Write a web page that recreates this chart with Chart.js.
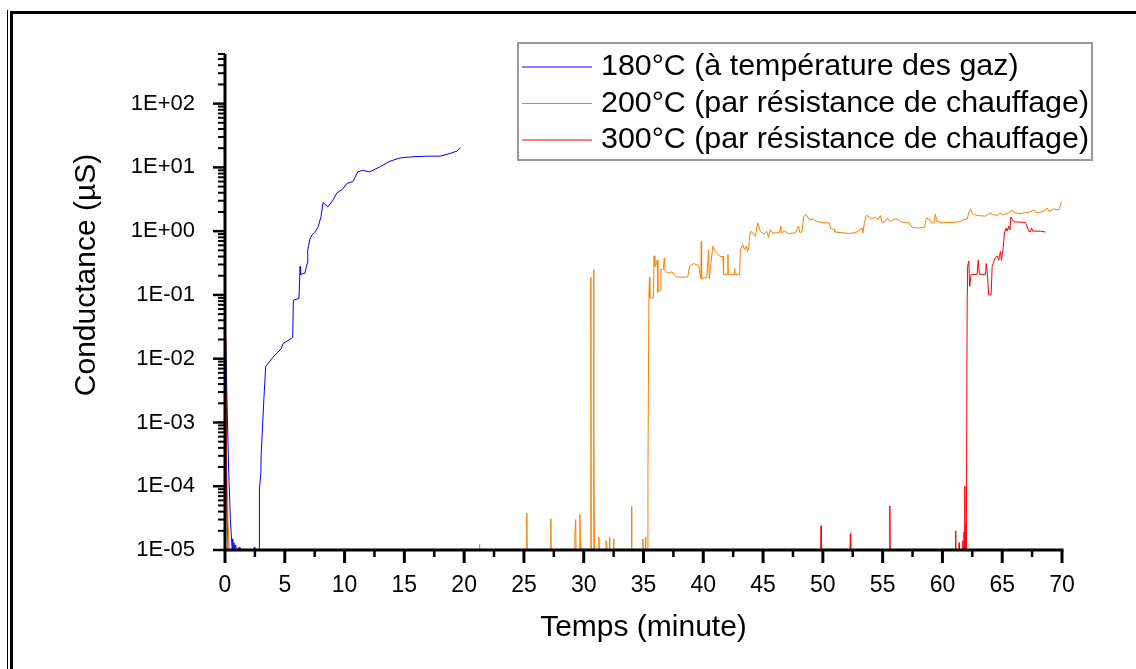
<!DOCTYPE html>
<html><head><meta charset="utf-8">
<script src="https://cdn.jsdelivr.net/npm/chart.js@4.4.0/dist/chart.umd.min.js"></script>
<style>html,body{margin:0;padding:0;background:#fff}#wrap{width:1136px;height:669px;position:relative}</style>
</head><body><div id="wrap"><canvas id="c" width="1136" height="669"></canvas></div>
<script>
// ---- data ----
const seriesLabels = ['180°C (à température des gaz)', '200°C (par résistance de chauffage)', '300°C (par résistance de chauffage)'];
const seriesColors = ['#0000ff', '#ff8000', '#ff0000'];
const xTitle = 'Temps (minute)';
const yTitle = 'Conductance (µS)';
const xTickValues = [0,5,10,15,20,25,30,35,40,45,50,55,60,65,70];
const yTickExponents = [-5,-4,-3,-2,-1,0,1,2];

// 180°C : time (min), conductance (µS)
const blueT = [0,0.15,0.3,0.45,0.6,0.65,0.7,0.75,0.8,0.9,0.95,1.2,1.25,2.4,2.45,2.5,2.85,2.88,3.0,3.02,3.25,3.4,4.0,4.7,4.85,5.66,5.72,6.19,6.28,6.32,6.69,6.86,6.92,7.0,7.1,7.28,7.5,7.8,8.03,8.2,8.6,8.95,9.37,9.8,10.2,10.7,11.1,11.5,12.1,13.0,13.8,14.6,15.7,16.9,18.0,18.8,19.4,19.7];
const blueG = [0.05,3e-3,2e-4,3e-5,1e-5,1.5e-5,1e-5,1.3e-5,1e-5,1.2e-5,1e-5,1.1e-5,1e-5,1e-5,1.1e-5,1e-5,1e-5,9e-5,1.6e-4,3e-4,2.3e-3,7.5e-3,0.0105,0.0143,0.0172,0.0215,0.083,0.088,0.28,0.21,0.22,0.31,0.51,0.6,0.75,0.88,0.95,1.18,1.7,2.8,2.4,2.9,4.0,4.5,5.6,6.0,8.5,9,8.5,10.3,12.5,14,14.7,15,15,16.5,18,20.5];

// 200°C
const orangeT = [0,0.08,0.15,0.25,0.35,21.25,21.28,21.31,25.21,25.24,25.27,27.22,27.25,27.28,29.23,29.26,29.33,29.36,29.65,29.68,29.72,29.75,30.57,30.6,30.63,30.79,30.82,30.86,30.9,31.24,31.27,31.3,31.83,31.86,31.94,31.97,32.13,32.16,32.19,32.47,32.5,32.53,33.97,34.0,34.03,34.92,34.95,35.0,35.14,35.17,35.2,35.33,35.37,35.45,35.5,35.53,35.84,35.88,35.95,36.05,36.15,36.2,36.4,36.45,36.65,36.74,36.8,37.0,37.38,37.74,38.69,38.86,39.19,39.61,39.8,39.83,39.86,40.3,40.44,40.5,40.8,41.0,41.42,41.65,41.7,42.03,42.06,42.09,42.6,42.63,42.66,43.04,43.1,43.3,43.45,43.6,43.7,43.8,43.87,44.0,44.35,44.55,44.7,44.9,45.1,45.3,45.46,45.6,45.8,46.4,46.47,46.55,46.8,47.14,47.7,47.95,48.1,48.26,48.4,48.6,48.85,49.2,49.5,50.07,50.55,50.63,50.95,51.0,51.7,52.3,52.86,53.08,53.28,53.36,53.47,53.64,53.84,54.1,54.4,54.6,54.8,54.95,55.2,55.4,55.6,55.9,56.2,56.5,56.8,57.2,57.46,58.0,58.5,58.66,58.9,59.1,59.3,59.4,59.55,59.97,60.4,60.95,61.5,61.8,62.07,62.2,62.35,62.5,62.9,63.6,63.75,64.0,64.2,64.6,64.8,65.0,65.4,65.6,65.77,66.0,66.4,66.8,67.2,67.64,67.9,68.45,68.76,68.9,69.3,69.73,69.95];
const orangeG = [0.02,1.5e-3,2e-4,3e-5,1e-5,1e-5,1.23e-5,1e-5,1e-5,3.8e-5,1e-5,1e-5,3.1e-5,1e-5,1e-5,1.8e-5,3e-5,1e-5,1e-5,3.6e-5,1.3e-5,1e-5,1e-5,0.19,1e-5,1e-5,0.25,7e-4,1e-5,1e-5,1.6e-5,1e-5,1e-5,1.4e-5,1.2e-5,1e-5,1e-5,1.6e-5,1e-5,1e-5,1.5e-5,1e-5,1e-5,4.8e-5,1e-5,1e-5,1.5e-5,1e-5,1e-5,1.6e-5,1e-5,1e-5,1.4e-4,0.095,0.19,0.09,0.09,0.41,0.28,0.3,0.35,0.11,0.12,0.25,0.25,0.38,0.24,0.22,0.23,0.19,0.19,0.28,0.31,0.29,0.18,0.69,0.18,0.19,0.51,0.18,0.58,0.48,0.4,0.4,0.21,0.21,0.43,0.21,0.21,0.26,0.21,0.21,0.51,0.62,0.51,0.58,0.48,0.55,0.83,1.0,0.83,1.35,1.05,0.94,0.9,1.0,0.8,1.05,0.94,0.94,1.2,0.94,1.0,0.92,0.94,1.2,0.94,1.0,1.7,1.83,1.52,1.55,1.42,1.35,1.35,1.1,1.07,0.97,0.94,0.92,0.97,1.07,1.12,0.94,1.35,1.78,1.67,1.55,1.67,1.52,1.76,1.37,1.42,1.6,1.42,1.52,1.55,1.42,1.37,1.35,1.15,1.12,1.15,1.6,1.55,1.35,1.35,1.83,1.42,1.35,1.37,1.37,1.42,1.52,1.55,1.93,2.23,1.9,1.76,1.72,1.8,1.93,1.83,1.76,1.93,1.83,1.88,1.97,2.15,1.97,1.88,1.93,1.97,2.15,1.93,2.05,2.3,2.05,2.23,2.15,2.83];

// 300°C
const redT = [0,0.08,0.15,0.25,49.82,49.85,49.88,52.27,52.3,52.33,55.57,55.6,55.63,61.07,61.1,61.13,61.37,61.4,61.43,61.67,61.7,61.75,61.8,61.84,61.87,61.9,61.95,62.0,62.05,62.07,62.09,62.2,62.28,62.4,62.9,62.99,63.1,63.6,63.66,63.77,63.87,64.07,64.16,64.24,64.44,64.58,64.71,64.85,64.94,65.08,65.19,65.33,65.41,65.55,65.65,65.72,65.97,66.95,67.14,67.22,67.36,67.45,67.56,68.2,68.62];
const redG = [3e-3,4e-4,5e-5,1e-5,1e-5,2.4e-5,1e-5,1e-5,1.8e-5,1e-5,1e-5,4.9e-5,1e-5,1e-5,2e-5,1e-5,1e-5,1.3e-5,1e-5,1e-5,1.4e-5,1e-5,1.9e-5,1e-5,1e-4,1e-5,2.6e-5,1e-5,1e-5,0.1,0.27,0.34,0.136,0.21,0.21,0.35,0.21,0.21,0.31,0.21,0.1,0.1,0.28,0.31,0.39,0.41,0.35,0.48,0.35,0.55,0.94,1.12,1.0,1.2,1.05,1.67,1.4,1.37,1.12,1.0,0.97,1.12,1.0,1.0,0.97];

const toPts = (t, g) => t.map((v, i) => ({x: v, y: g[i]}));
const FONT = '"Liberation Sans", Arial, sans-serif';

const decor = {
  id: 'decor',
  afterDatasetsDraw(chart) {
    const ctx = chart.ctx;
    const xs = chart.scales.x, ys = chart.scales.y;
    const {left, right, top, bottom} = chart.chartArea;
    ctx.save();
    ctx.strokeStyle = '#000';
    ctx.lineCap = 'butt';
    for (let e = -5; e <= 2; e++) {
      for (let k = 1; k <= 9; k++) {
        const v = k * Math.pow(10, e);
        if (v > ys.max * 1.0001) break;
        const py = ys.getPixelForValue(v);
        ctx.lineWidth = k === 1 ? 2.5 : 2;
        ctx.beginPath();
        ctx.moveTo(left - (k === 1 ? 12 : 7), py);
        ctx.lineTo(left, py);
        ctx.stroke();
      }
    }
    for (let v = xs.min; v <= xs.max + 1e-9; v += 2.5) {
      const px = xs.getPixelForValue(v);
      const major = Math.abs(v % 5) < 1e-9;
      ctx.lineWidth = major ? 3 : 2.5;
      ctx.beginPath();
      ctx.moveTo(px, bottom);
      ctx.lineTo(px, bottom + (major ? 13 : 7));
      ctx.stroke();
    }
    ctx.lineWidth = 3;
    ctx.beginPath();
    ctx.moveTo(left, top);
    ctx.lineTo(left, bottom + 1.5);
    ctx.moveTo(left - 1.5, bottom);
    ctx.lineTo(right + 1.5, bottom);
    ctx.stroke();

    ctx.fillStyle = '#000';
    ctx.font = '30px ' + FONT;
    ctx.textAlign = 'center';
    ctx.textBaseline = 'middle';
    ctx.save();
    ctx.translate(87, 275);
    ctx.rotate(-Math.PI / 2);
    ctx.fillText(yTitle, 0, 0);
    ctx.restore();

    ctx.lineWidth = 2;
    ctx.strokeStyle = '#999';
    ctx.strokeRect(518, 43, 574, 117);
    ctx.textAlign = 'left';
    ctx.font = '30.4px ' + FONT;
    chart.data.datasets.forEach((ds, i) => {
      const cy = 67 + i * 36.5;
      ctx.strokeStyle = ds.borderColor;
      ctx.lineWidth = 1.2;
      ctx.beginPath();
      ctx.moveTo(522, cy);
      ctx.lineTo(592, cy);
      ctx.stroke();
      ctx.fillStyle = '#000';
      ctx.fillText(ds.label, 601, cy);
    });

    ctx.fillStyle = '#000';
    ctx.fillRect(10, 11, 3, 658);
    ctx.fillRect(10, 11, 1126, 3);
    ctx.fillRect(7, 10, 1, 659);
    ctx.restore();
  }
};

const chart = new Chart(document.getElementById('c'), {
  type: 'line',
  data: {
    datasets: [
      {label: seriesLabels[0], data: toPts(blueT, blueG), borderColor: seriesColors[0], order: 1},
      {label: seriesLabels[1], data: toPts(orangeT, orangeG), borderColor: seriesColors[1], order: 2},
      {label: seriesLabels[2], data: toPts(redT, redG), borderColor: seriesColors[2], order: 0}
    ]
  },
  options: {
    responsive: false,
    animation: false,
    devicePixelRatio: 1,
    layout: {padding: {top: 54, right: 74, left: 0, bottom: 0}},
    elements: {line: {borderWidth: 1, tension: 0}, point: {radius: 0}},
    plugins: {legend: {display: false}, tooltip: {enabled: false}},
    scales: {
      x: {
        type: 'linear', min: 0, max: 70,
        grid: {display: false}, border: {display: false},
        afterBuildTicks: s => { s.ticks = xTickValues.map(v => ({value: v})); },
        ticks: {autoSkip: false, maxRotation: 0, padding: 14, color: '#000', font: {family: FONT, size: 23}},
        title: {display: true, text: xTitle, color: '#000', font: {family: FONT, size: 30}, padding: {top: 0, bottom: 23}},
        afterFit: s => { s.height = 119; }
      },
      y: {
        type: 'logarithmic', min: 1e-5, max: 600,
        grid: {display: false}, border: {display: false},
        afterBuildTicks: s => { s.ticks = yTickExponents.map(e => ({value: Math.pow(10, e)})); },
        ticks: {
          autoSkip: false, padding: 22, color: '#000', font: {family: FONT, size: 22},
          callback: v => {
            const e = Math.round(Math.log10(v));
            return '1E' + (e >= 0 ? '+' : '-') + String(Math.abs(e)).padStart(2, '0');
          }
        },
        afterFit: s => { s.width = 225; }
      }
    }
  },
  plugins: [decor]
});
</script></body></html>
